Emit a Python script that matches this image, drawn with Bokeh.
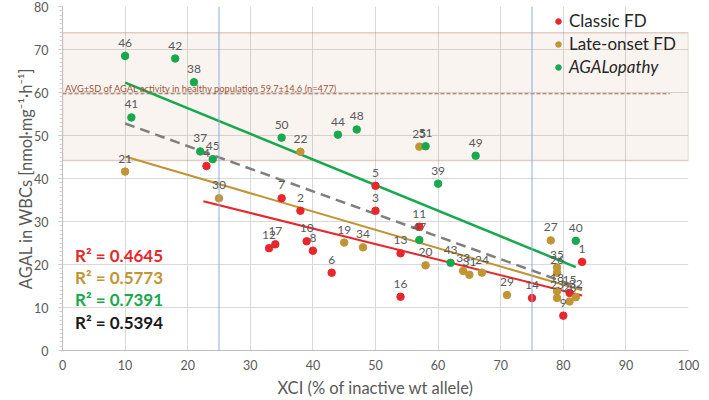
import numpy as np
from bokeh.plotting import figure
from bokeh.models import (Range1d, BoxAnnotation, Span, Label, Legend, LegendItem,
                          ColumnDataSource, FixedTicker)
from bokeh.core.properties import value
from bokeh.embed import file_html
from bokeh.resources import INLINE

# ---------------- data ----------------
classic_id = [str(i) for i in range(1, 18)]
classic_x = [83, 38, 50, 23, 50, 43, 35, 40, 80, 39, 57, 33, 54, 75, 81, 54, 34]
classic_y = [20.6, 32.5, 32.5, 42.9, 38.3, 18.1, 35.4, 23.2, 8.1, 25.4, 28.8, 23.8, 22.6, 12.2, 13.4, 12.5, 24.7]

late_id = [str(i) for i in range(18, 36)]
late_x = [79, 45, 58, 10, 38, 79, 67, 57, 79, 78, 81, 71, 25, 65, 82, 64, 48, 79]
late_y = [13.8, 25.1, 19.8, 41.6, 46.2, 12.2, 18.1, 47.4, 18.1, 25.6, 11.4, 12.9, 35.4, 17.6, 12.4, 18.5, 24.0, 19.3]

agal_id = [str(i) for i in range(37, 52)]
agal_x = [22, 21, 60, 82, 11, 18, 62, 44, 24, 10, 57, 47, 66, 35, 58]
agal_y = [46.3, 62.4, 38.8, 25.5, 54.2, 67.9, 20.4, 50.2, 44.5, 68.5, 25.7, 51.4, 45.3, 49.5, 47.5]

# trend lines (start/end)
trend_names = ["classic", "late", "agal", "all"]
trend_x0 = [22.5, 10, 10, 10]
trend_x1 = [83, 83, 82, 83]
trend_y0 = [34.7, 45.1, 62.3, 52.8]
trend_y1 = [12.8, 14.0, 19.4, 14.4]
r2_texts = ["R² = 0.4645", "R² = 0.5773", "R² = 0.7391", "R² = 0.5394"]

healthy_avg = 59.7
band_low, band_high = 44.2, 73.9
avg_line_end = 97
avg_text = "AVG±SD of AGAL activity in healthy population 59,7±14,6 (n=477)"
xci_marks = [25, 75]

series_names = ["Classic FD", "Late-onset FD", "AGALopathy"]
x_title = "XCI (% of inactive wt allele)"
y_title = "AGAL in WBCs [nmol·mg⁻¹·h⁻¹]"

# ---------------- style ----------------
RED = "#E8262B"
GOLD = "#C19434"
GREEN = "#17A94C"
GRAY_LINE = "#7F7F7F"
FONT = "Lato"
TXT = "#595959"

p = figure(width=709, height=400, output_backend="svg", toolbar_location=None,
           x_range=Range1d(0, 100), y_range=Range1d(0, 80),
           min_border_left=62, min_border_right=21, min_border_top=6, min_border_bottom=48)
p.outline_line_color = None
p.background_fill_color = "white"

p.xaxis.ticker = FixedTicker(ticks=list(range(0, 101, 10)))
p.yaxis.ticker = FixedTicker(ticks=list(range(0, 81, 10)),
                             minor_ticks=list(range(0, 81, 1)))
for ax in (p.xaxis[0], p.yaxis[0]):
    ax.axis_line_color = "#BFBFBF"
    ax.major_tick_line_color = "#BFBFBF"
    ax.major_label_text_font = FONT
    ax.major_label_text_font_size = "12.5px"
    ax.major_label_text_color = TXT
    ax.axis_label_text_font = FONT
    ax.axis_label_text_font_size = "16.5px"
    ax.axis_label_text_font_style = "normal"
    ax.axis_label_text_color = TXT
p.xaxis.major_label_standoff = 9
p.yaxis.major_label_standoff = 10
p.xaxis.major_tick_out = 0
p.xaxis.major_tick_in = 0
p.xaxis.minor_tick_line_color = None
p.xaxis.axis_label = x_title
p.xaxis.axis_label_standoff = 5
p.yaxis.major_tick_out = 4
p.yaxis.major_tick_in = 0
p.yaxis.minor_tick_out = 3
p.yaxis.minor_tick_in = 0
p.yaxis.minor_tick_line_color = "#D0D0D0"
p.yaxis.axis_label = y_title
p.yaxis.axis_label_standoff = -5

p.grid.grid_line_color = "#D9D9D9"
p.grid.grid_line_width = 1

# healthy band
p.add_layout(BoxAnnotation(bottom=band_low, top=band_high, fill_color="#C8825F", fill_alpha=0.09,
                           line_color="#A0634A", line_width=1.5, level="underlay"))
for xm in xci_marks:
    p.add_layout(Span(location=xm, dimension="height", line_color="#8FAADC", line_width=1))

p.line([0, avg_line_end], [healthy_avg, healthy_avg], line_color="#A0634A", line_width=1,
       line_dash="4 2")
p.add_layout(Label(x=0.4, y=healthy_avg, text=avg_text, text_baseline="bottom",
                   text_font=FONT, text_font_size="9.3px", text_color="#9A5636"))

# trend lines
tcolors = [RED, GOLD, GREEN, GRAY_LINE]
twidths = [2, 2, 2.5, 2.5]
for i in range(4):
    kw = dict(line_color=tcolors[i], line_width=twidths[i])
    if trend_names[i] == "all":
        kw["line_dash"] = "10 6"
    p.line([trend_x0[i], trend_x1[i]], [trend_y0[i], trend_y1[i]], **kw)

# points
renderers = []
for xs, ys, ids, col in [(classic_x, classic_y, classic_id, RED),
                         (late_x, late_y, late_id, GOLD),
                         (agal_x, agal_y, agal_id, GREEN)]:
    src = ColumnDataSource(dict(x=xs, y=ys, t=ids))
    r = p.scatter("x", "y", source=src, size=7.5, fill_color=col, line_color=col)
    renderers.append(r)
for xs, ys, ids in [(classic_x, classic_y, classic_id), (late_x, late_y, late_id),
                    (agal_x, agal_y, agal_id)]:
    src = ColumnDataSource(dict(x=xs, y=ys, t=ids))
    p.text("x", "y", text="t", source=src, y_offset=-13, text_align="center",
           text_baseline="middle", text_font=value(FONT), text_font_size="12px",
           text_color=TXT)

# R² texts
r2_y = [22.2, 17.0, 11.8, 6.6]
r2_colors = [RED, GOLD, GREEN, "#1A1A1A"]
for i in range(4):
    p.add_layout(Label(x=2.0, y=r2_y[i], text=r2_texts[i], text_baseline="middle",
                       text_font=FONT, text_font_size="17px", text_font_style="bold",
                       text_color=r2_colors[i]))

# legends
leg_common = dict(glyph_width=14, glyph_height=20, label_height=20, spacing=2,
                  padding=0, margin=0, label_standoff=4,
                  label_text_font=FONT, label_text_font_size="17px",
                  label_text_color="#262626", background_fill_alpha=0,
                  border_line_alpha=0)
leg1 = Legend(items=[LegendItem(label=series_names[0], renderers=[renderers[0]]),
                     LegendItem(label=series_names[1], renderers=[renderers[1]])],
              location=(489, 296), **leg_common)
leg2 = Legend(items=[LegendItem(label=series_names[2], renderers=[renderers[2]])],
              location=(489, 273), label_text_font_style="italic", **leg_common)
p.add_layout(leg1, "center")
p.add_layout(leg2, "center")

open("out.html", "w").write(file_html(p, INLINE))
